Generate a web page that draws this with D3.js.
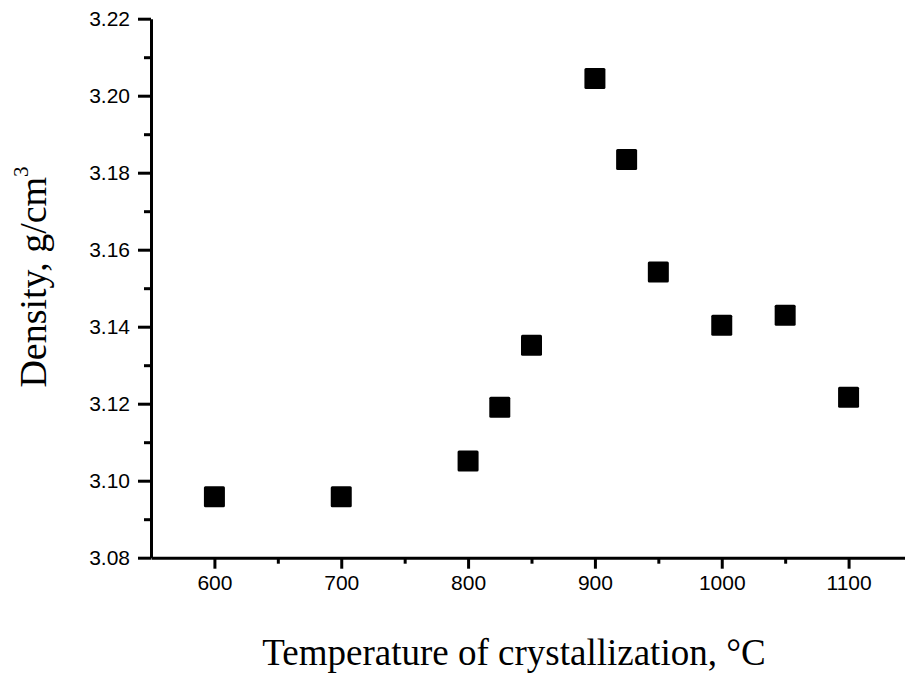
<!DOCTYPE html>
<html>
<head>
<meta charset="utf-8">
<script src="https://cdn.jsdelivr.net/npm/d3@7"></script>
<style>
  body { margin: 0; background: #fff; }
  svg { display: block; }
</style>
</head>
<body>
<figure style="margin:0"></figure>
<script>
// crystallization temperature (°C) and measured density (g/cm3)
const temperature = [600, 700, 800, 825, 850, 900, 925, 950, 1000, 1050, 1100]
const density = [3.0958, 3.0958, 3.1051, 3.1191, 3.1352, 3.2045, 3.1834, 3.1542, 3.1404, 3.1430, 3.1217]
const xTicks = [600, 700, 800, 900, 1000, 1100]
const yTicks = [3.08, 3.10, 3.12, 3.14, 3.16, 3.18, 3.20, 3.22]

const figure = document.querySelector('figure')
var W = 905, H = 674

var svg = d3.select(figure).append("svg").attr("width", W).attr("height", H),
    margin = {left: 151, top: 18.7, right: -7, bottom: 116.3},
    width = W - margin.left - margin.right,
    height = H - margin.top - margin.bottom,
    g = svg.append("g").attr("transform", "translate(" + margin.left + "," + margin.top + ")")

var x = d3.scaleLinear().domain([550, 1150]).range([0, width])
var y = d3.scaleLinear().domain([3.08, 3.22]).range([height, 0])

// minor ticks first (shorter), then major with labels
g.append("g")
    .attr("transform", "translate(0," + height + ")")
    .call(d3.axisBottom(x).tickValues(d3.range(650, 1150, 100)).tickSize(6).tickFormat(""))
    .call(a => a.select(".domain").remove())

var xAxis = g.append("g")
    .attr("transform", "translate(0," + height + ")")
    .call(d3.axisBottom(x).tickValues(xTicks).tickSize(11).tickSizeOuter(0).tickPadding(6).tickFormat(d3.format("d")))

g.append("g")
    .call(d3.axisLeft(y).tickValues(d3.range(3.09, 3.22, 0.02)).tickSize(7).tickFormat(""))
    .call(a => a.select(".domain").remove())

var yAxis = g.append("g")
    .call(d3.axisLeft(y).tickValues(yTicks).tickSize(13).tickSizeOuter(0).tickPadding(8).tickFormat(d3.format(".2f")))

g.selectAll(".tick line").attr("stroke", "#000").attr("stroke-width", 3)
g.selectAll(".domain").attr("stroke", "#000").attr("stroke-width", 3)
g.selectAll(".tick text")
    .attr("fill", "#000")
    .attr("font-family", "Liberation Sans, Arial, sans-serif")
    .attr("font-size", 21)

var s = 21
g.append("g").selectAll("rect")
    .data(temperature)
  .enter().append("rect")
    .attr("x", (d, i) => x(d) - s / 2)
    .attr("y", (d, i) => y(density[i]) - s / 2)
    .attr("width", s)
    .attr("height", s)
    .attr("rx", 1.5)
    .attr("fill", "#000")

svg.append("text")
    .attr("x", 514)
    .attr("y", 665)
    .attr("text-anchor", "middle")
    .attr("font-family", "Liberation Serif, Times New Roman, serif")
    .attr("font-size", 37)
    .text("Temperature of crystallization, °C")

var yt = svg.append("text")
    .attr("transform", "translate(46,277) rotate(-90)")
    .attr("text-anchor", "middle")
    .attr("font-family", "Liberation Serif, Times New Roman, serif")
    .attr("font-size", 38)
yt.append("tspan").text("Density, g/cm")
yt.append("tspan").attr("dy", -18).attr("font-size", 21).text("3")
</script>
</body>
</html>
